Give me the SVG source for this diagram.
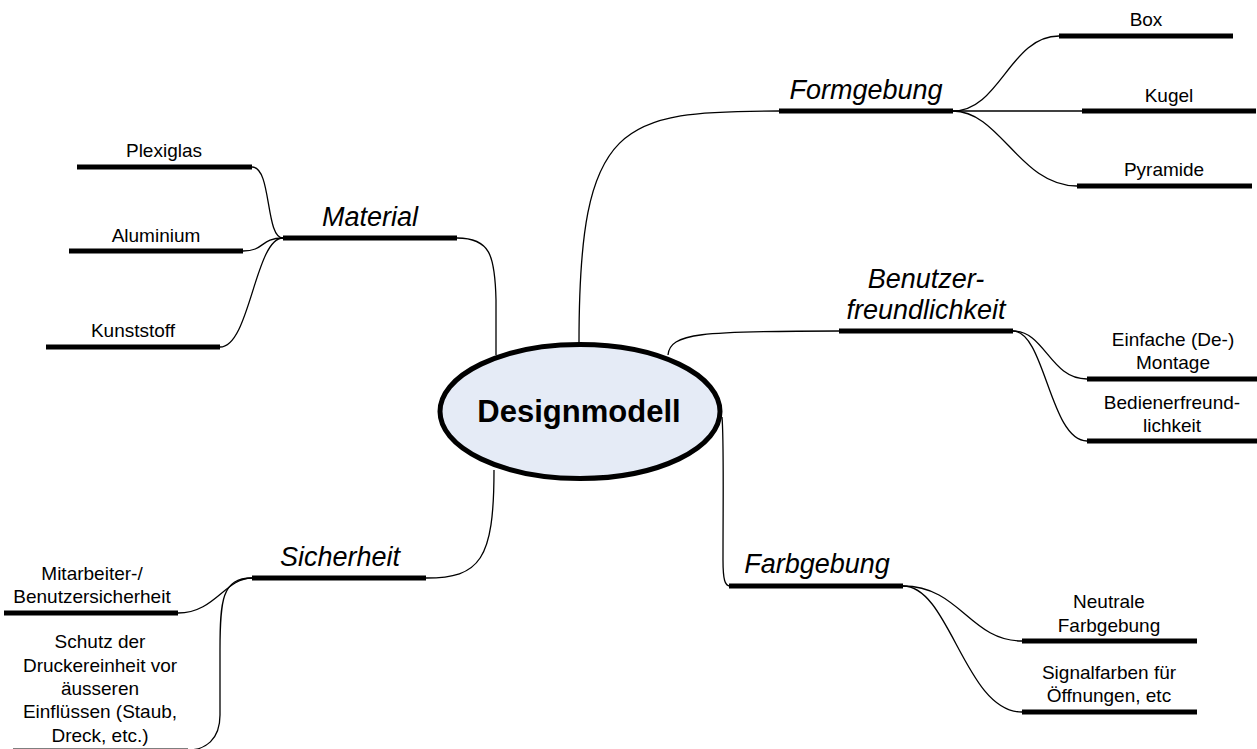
<svg xmlns="http://www.w3.org/2000/svg" width="1257" height="749" viewBox="0 0 1257 749">
<style>
.bar{stroke:#000;stroke-width:5;stroke-linecap:butt;fill:none}
.conn{stroke:#000;stroke-width:1.3;fill:none}
.s{font-family:"Liberation Sans",Arial,sans-serif;font-size:19px;text-anchor:middle;fill:#000}
.c{font-family:"Liberation Sans",Arial,sans-serif;font-size:27px;font-style:italic;text-anchor:middle;fill:#000}
.m{font-family:"Liberation Sans",Arial,sans-serif;font-size:31px;font-weight:bold;text-anchor:middle;fill:#000}
</style>
<rect width="1257" height="749" fill="#fff"/>
<g id="connectors">
<path class="conn" d="M579,343 C579,120 620,111 779,111"/>
<path class="conn" d="M953,111 C1000,111 1010,36 1059,36"/>
<path class="conn" d="M953,111 L1082,111"/>
<path class="conn" d="M953,111 C1000,111 1020,186 1077,186"/>
<path class="conn" d="M496,355 L496,300 C495,255 490,238 457,238"/>
<path class="conn" d="M252,167 C272,167 265,238 283,238"/>
<path class="conn" d="M243,251 C265,251 260,238 283,238"/>
<path class="conn" d="M220,347 C250,347 255,238 283,238"/>
<path class="conn" d="M668,355 C670,333 700,331 839,331"/>
<path class="conn" d="M1013,331 C1045,331 1050,379 1087,379"/>
<path class="conn" d="M1013,331 C1045,331 1050,441 1087,441"/>
<path class="conn" d="M722,417 C724,440 723,500 723,560 C723,580 725,586 730,586"/>
<path class="conn" d="M903,586 C960,586 970,641 1022,641"/>
<path class="conn" d="M903,586 C950,586 965,712 1022,712"/>
<path class="conn" d="M494,470 C494,560 480,578 426,578"/>
<path class="conn" d="M252,578 C225,578 215,613 178,613"/>
<path class="conn" d="M252,578 C222,578 220,600 220,650 L220,715 C220,740 205,750 188,750"/>
</g>
<g id="designmodell">
<ellipse cx="580" cy="411.5" rx="140" ry="67" fill="#E5EBF6" stroke="#000" stroke-width="5"/>
<text class="m" x="579" y="422">Designmodell</text>
</g>
<g id="formgebung">
<line class="bar" x1="779" y1="111" x2="953" y2="111"/>
<text class="c" x="866" y="99">Formgebung</text>
</g>
<g id="box">
<line class="bar" x1="1059" y1="36" x2="1233" y2="36"/>
<text class="s" x="1146" y="26">Box</text>
</g>
<g id="kugel">
<line class="bar" x1="1082" y1="111" x2="1256" y2="111"/>
<text class="s" x="1169" y="102">Kugel</text>
</g>
<g id="pyramide">
<line class="bar" x1="1077" y1="186" x2="1252" y2="186"/>
<text class="s" x="1164" y="176">Pyramide</text>
</g>
<g id="material">
<line class="bar" x1="283" y1="238" x2="457" y2="238"/>
<text class="c" x="370" y="226">Material</text>
</g>
<g id="plexiglas">
<line class="bar" x1="77" y1="167" x2="252" y2="167"/>
<text class="s" x="164" y="157">Plexiglas</text>
</g>
<g id="aluminium">
<line class="bar" x1="69" y1="251" x2="243" y2="251"/>
<text class="s" x="156" y="242">Aluminium</text>
</g>
<g id="kunststoff">
<line class="bar" x1="46" y1="347" x2="220" y2="347"/>
<text class="s" x="133" y="337">Kunststoff</text>
</g>
<g id="benutzerfreundlichkeit">
<line class="bar" x1="839" y1="331" x2="1013" y2="331"/>
<text class="c" x="926" y="288">Benutzer-</text>
<text class="c" x="926" y="319">freundlichkeit</text>
</g>
<g id="einfache-montage">
<line class="bar" x1="1087" y1="379" x2="1257" y2="379"/>
<text class="s" x="1173" y="346">Einfache (De-)</text>
<text class="s" x="1173" y="369">Montage</text>
</g>
<g id="bedienerfreundlichkeit">
<line class="bar" x1="1087" y1="441" x2="1257" y2="441"/>
<text class="s" x="1172" y="409">Bedienerfreund-</text>
<text class="s" x="1172" y="432">lichkeit</text>
</g>
<g id="farbgebung">
<line class="bar" x1="729" y1="586" x2="903" y2="586"/>
<text class="c" x="817" y="573">Farbgebung</text>
</g>
<g id="neutrale-farbgebung">
<line class="bar" x1="1022" y1="641" x2="1197" y2="641"/>
<text class="s" x="1109" y="608">Neutrale</text>
<text class="s" x="1109" y="632">Farbgebung</text>
</g>
<g id="signalfarben">
<line class="bar" x1="1022" y1="712" x2="1197" y2="712"/>
<text class="s" x="1109" y="679">Signalfarben für</text>
<text class="s" x="1109" y="702">Öffnungen, etc</text>
</g>
<g id="sicherheit">
<line class="bar" x1="252" y1="578" x2="426" y2="578"/>
<text class="c" x="340" y="566">Sicherheit</text>
</g>
<g id="mitarbeiter">
<line class="bar" x1="4" y1="613" x2="178" y2="613"/>
<text class="s" x="92" y="580">Mitarbeiter-/</text>
<text class="s" x="92" y="603">Benutzersicherheit</text>
</g>
<g id="schutz">
<line class="bar" x1="13" y1="751" x2="188" y2="751"/>
<text class="s" x="100" y="648">Schutz der</text>
<text class="s" x="100" y="672">Druckereinheit vor</text>
<text class="s" x="100" y="695">äusseren</text>
<text class="s" x="100" y="718">Einflüssen (Staub,</text>
<text class="s" x="100" y="742">Dreck, etc.)</text>
</g>
</svg>
